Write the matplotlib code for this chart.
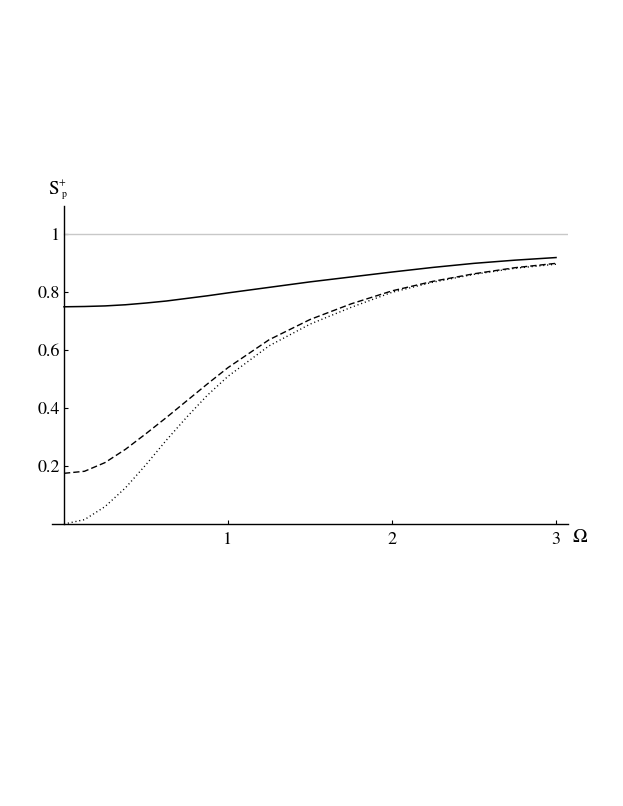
import matplotlib.pyplot as plt

plt.rcParams['font.family'] = ['STIXGeneral', 'Liberation Serif', 'DejaVu Serif']
plt.rcParams['mathtext.fontset'] = 'stix'

# values
omega = [0, 0.125, 0.25, 0.375, 0.5, 0.625, 0.75, 0.875, 1.0, 1.25, 1.5, 1.75,
         2.0, 2.25, 2.5, 2.75, 3.0]
s_solid = [0.750, 0.751, 0.753, 0.757, 0.763, 0.770, 0.779, 0.788, 0.798, 0.817,
           0.836, 0.853, 0.870, 0.886, 0.900, 0.911, 0.920]
s_dashed = [0.175, 0.182, 0.212, 0.258, 0.312, 0.368, 0.426, 0.484, 0.540, 0.636,
            0.706, 0.760, 0.805, 0.838, 0.864, 0.885, 0.900]
s_dotted = [0.000, 0.015, 0.060, 0.125, 0.205, 0.290, 0.370, 0.445, 0.510, 0.615,
            0.690, 0.748, 0.800, 0.835, 0.862, 0.883, 0.897]

xticks = [1, 2, 3]
yticks = [0.2, 0.4, 0.6, 0.8, 1.0]
ylabels = ['0.2', '0.4', '0.6', '0.8', '1']

W, H = 623, 806
fig = plt.figure(figsize=(W/100, H/100), dpi=100)
ax = fig.add_axes([52/W, 1 - 524/H, (568 - 52)/W, (524 - 206)/H])

ax.axhline(1.0, xmin=12/516, xmax=1, color='#c8c8c8', lw=1.0)
ax.plot(omega, s_solid, color='black', lw=1.1)
ax.plot(omega, s_dashed, color='black', lw=1.0, dashes=(4.5, 2.2))
ax.plot(omega, s_dotted, color='black', lw=1.0, dashes=(0.8, 2.0))

ax.set_xlim(-12/164, 3.073)
ax.set_ylim(0, 1.098)

ax.spines['top'].set_visible(False)
ax.spines['right'].set_visible(False)
ax.spines['left'].set_position(('data', 0))
ax.spines['left'].set_linewidth(1.0)
ax.spines['bottom'].set_linewidth(1.0)

ax.set_xticks(xticks)
ax.set_xticklabels([str(t) for t in xticks])
ax.set_yticks(yticks)
ax.set_yticklabels(ylabels)
ax.tick_params(direction='in', length=3, width=0.8, labelsize=13)
ax.tick_params(axis='x', pad=6)
ax.tick_params(axis='y', pad=3)

ax.text(3.098, -0.017, r'$\Omega$', fontsize=14, ha='left', va='top')

# S_p^+ label, built from pieces like the original
fig.text(48/W, 1 - 194/H, 'S', fontsize=13.5, ha='left', va='baseline')
fig.text(58.5/W, 1 - 182.5/H, '+', fontsize=7, ha='left', va='center')
fig.text(62/W, 1 - 194/H, 'p', fontsize=7, ha='left', va='center')

fig.savefig('out.png', dpi=100)
